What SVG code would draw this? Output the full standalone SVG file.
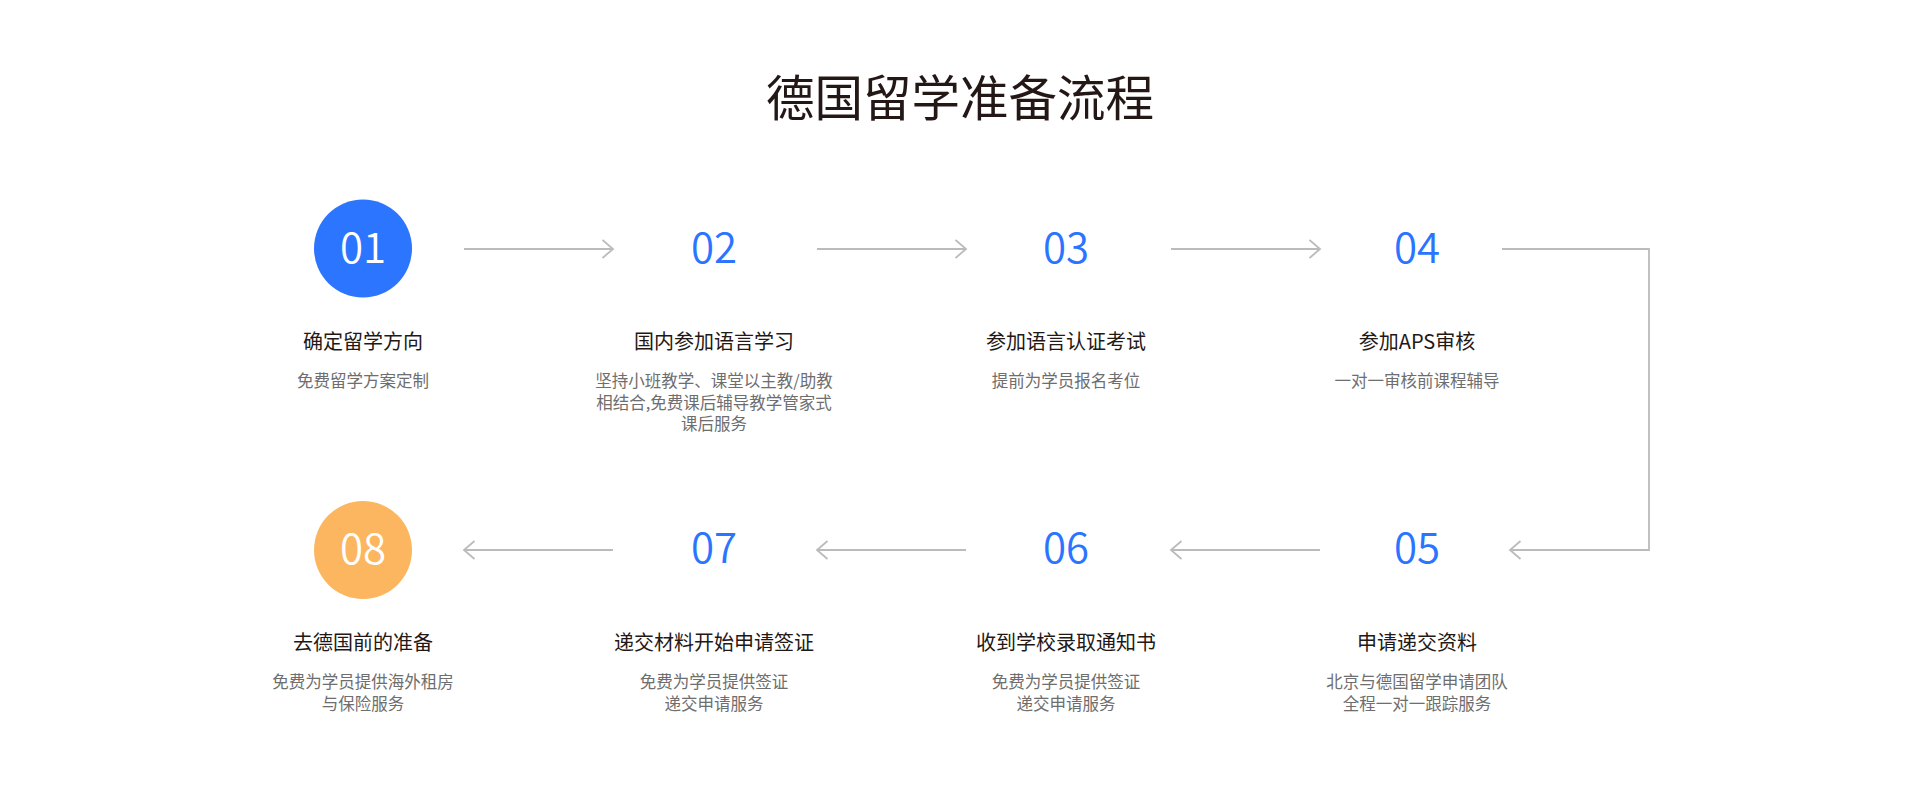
<svg xmlns="http://www.w3.org/2000/svg" width="1920" height="800" viewBox="0 0 1920 800">
<style>
text{font-family:"Noto Sans CJK SC","Noto Sans",sans-serif;text-anchor:middle}
.title{font-size:48.5px;fill:#231815}
.num{font-size:42px;fill:#2b74ff;font-weight:350}
.numw{font-size:42px;fill:#ffffff;font-weight:350}
.lbl{font-size:20px;fill:#231815}
.desc{font-size:16.5px;fill:#6e6e6e}
.conn{fill:none;stroke:#bbbbbb;stroke-width:1.8}
</style>
<defs>
<marker id="ah" markerWidth="14" markerHeight="22" refX="11.5" refY="10" orient="auto" markerUnits="userSpaceOnUse">
<path d="M1,1 L11.5,10 L1,19" fill="none" stroke="#bbbbbb" stroke-width="1.8"/>
</marker>
</defs>
<rect width="1920" height="800" fill="#ffffff"/>
<text class="title" x="960" y="116">德国留学准备流程</text>
<g id="connectors">
<line class="conn" x1="464" y1="249" x2="613" y2="249" marker-end="url(#ah)"/>
<line class="conn" x1="817" y1="249" x2="966" y2="249" marker-end="url(#ah)"/>
<line class="conn" x1="1171" y1="249" x2="1320" y2="249" marker-end="url(#ah)"/>
<polyline class="conn" points="1502,249 1649,249 1649,550 1510,550" marker-end="url(#ah)"/>
<line class="conn" x1="1320" y1="550" x2="1171" y2="550" marker-end="url(#ah)"/>
<line class="conn" x1="966" y1="550" x2="817" y2="550" marker-end="url(#ah)"/>
<line class="conn" x1="613" y1="550" x2="464" y2="550" marker-end="url(#ah)"/>
</g>
<g id="step01">
<circle cx="363" cy="248.5" r="49" fill="#2c75ff"/>
<text class="numw" x="363" y="262.5">01</text>
<text class="lbl" x="363" y="348.5">确定留学方向</text>
<text class="desc" x="363" y="387">免费留学方案定制</text>
</g>
<g id="step02">
<text class="num" x="714" y="262.5">02</text>
<text class="lbl" x="714" y="348.5">国内参加语言学习</text>
<text class="desc" x="714" y="387">坚持小班教学、课堂以主教/助教</text>
<text class="desc" x="714" y="408.5">相结合,免费课后辅导教学管家式</text>
<text class="desc" x="714" y="430">课后服务</text>
</g>
<g id="step03">
<text class="num" x="1066" y="262.5">03</text>
<text class="lbl" x="1066" y="348.5">参加语言认证考试</text>
<text class="desc" x="1066" y="387">提前为学员报名考位</text>
</g>
<g id="step04">
<text class="num" x="1417" y="262.5">04</text>
<text class="lbl" x="1417" y="348.5">参加APS审核</text>
<text class="desc" x="1417" y="387">一对一审核前课程辅导</text>
</g>
<g id="step05">
<text class="num" x="1417" y="563">05</text>
<text class="lbl" x="1417" y="649.5">申请递交资料</text>
<text class="desc" x="1417" y="688">北京与德国留学申请团队</text>
<text class="desc" x="1417" y="709.5">全程一对一跟踪服务</text>
</g>
<g id="step06">
<text class="num" x="1066" y="563">06</text>
<text class="lbl" x="1066" y="649.5">收到学校录取通知书</text>
<text class="desc" x="1066" y="688">免费为学员提供签证</text>
<text class="desc" x="1066" y="709.5">递交申请服务</text>
</g>
<g id="step07">
<text class="num" x="714" y="563">07</text>
<text class="lbl" x="714" y="649.5">递交材料开始申请签证</text>
<text class="desc" x="714" y="688">免费为学员提供签证</text>
<text class="desc" x="714" y="709.5">递交申请服务</text>
</g>
<g id="step08">
<circle cx="363" cy="550" r="49" fill="#fdb660"/>
<text class="numw" x="363" y="563.5">08</text>
<text class="lbl" x="363" y="649.5">去德国前的准备</text>
<text class="desc" x="363" y="688">免费为学员提供海外租房</text>
<text class="desc" x="363" y="709.5">与保险服务</text>
</g>
</svg>
